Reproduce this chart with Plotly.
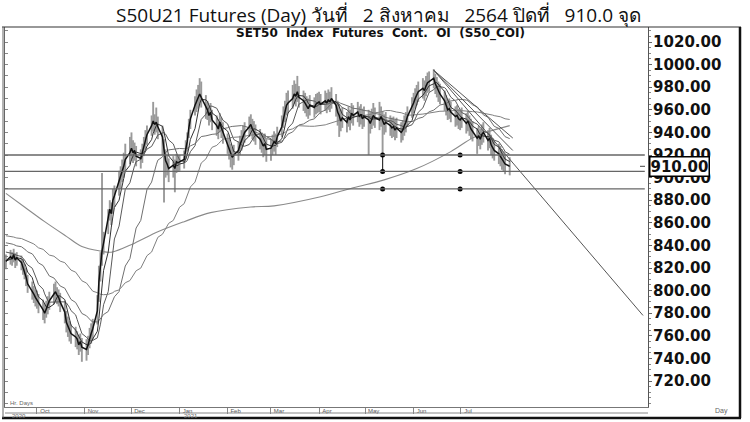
import pandas as pd
import plotly.graph_objects as go

# ---------------- data ----------------
start_date = "2020-09-11"

close = [
    # Sep 2020
    826, 830, 828, 832, 827, 829, 825, 821, 818, 812, 806, 800, 797, 794,
    # Oct 2020
    792, 789, 783, 780, 784, 788, 791, 797, 799, 796, 794, 790, 781, 772, 768, 764, 762, 759, 757, 752, 755, 750,
    # Nov 2020
    748, 752, 758, 762, 766, 782, 808, 822, 835, 842, 864, 872, 868, 880, 884, 896, 900, 906, 910, 916, 922,
    # Dec 2020
    926, 922, 924, 919, 917, 922, 928, 934, 938, 946, 950, 947, 949, 945, 936, 925, 915, 912, 908, 911, 908, 914, 913,
    # Jan 2021
    914, 916, 925, 932, 944, 952, 964, 967, 970, 974, 971, 962, 960, 955, 958, 951, 946, 943, 949, 944, 940,
    # Feb 2021
    930, 926, 921, 918, 920, 924, 929, 933, 937, 940, 945, 947, 943, 941, 938, 934, 931, 928, 930, 925,
    # Mar 2021
    926, 929, 932, 930, 936, 945, 953, 958, 964, 966, 970, 974, 972, 976, 971, 968, 966, 963, 961, 964, 962, 965, 966,
    # Apr 2021
    967, 965, 968, 966, 969, 967, 970, 964, 958, 955, 950, 953, 949, 954, 951, 957, 955, 958, 954, 956, 952, 954,
    # May 2021
    951, 948, 952, 955, 953, 951, 954, 950, 947, 949, 946, 944, 945, 942, 944, 940, 942, 946, 949, 954, 962,
    # Jun 2021
    966, 970, 973, 976, 979, 977, 981, 984, 985, 988, 983, 980, 976, 974, 968, 964, 960, 961, 958, 954, 955, 952,
    # Jul 2021
    951, 953, 948, 950, 946, 943, 941, 935, 937, 934, 938, 940, 933, 935, 929, 926, 924, 921, 919, 916, 914, 912,
    # Aug 2021
    910,
]

high = [
    832, 836, 834, 837, 833, 834, 831, 828, 824, 820, 814, 808, 804, 801,
    800, 797, 792, 788, 791, 795, 799, 806, 808, 803, 801, 798, 791, 782, 777, 773, 770, 768, 764, 761, 762, 758,
    757, 760, 767, 771, 775, 796, 822, 834, 904, 852, 872, 880, 878, 890, 893, 906, 910, 916, 922, 930, 936,
    940, 933, 931, 928, 925, 930, 936, 942, 946, 955, 967, 956, 962, 954, 946, 934, 925, 920, 917, 919, 916, 921, 920,
    920, 924, 933, 940, 952, 960, 972, 978, 982, 988, 985, 973, 968, 964, 966, 960, 955, 952, 957, 953, 949,
    939, 935, 930, 927, 929, 932, 937, 942, 946, 949, 954, 956, 952, 950, 947, 943, 940, 937, 939, 934,
    934, 938, 941, 939, 945, 955, 963, 968, 975, 977, 982, 986, 983, 990, 981, 977, 975, 972, 970, 973, 971, 974, 975,
    976, 974, 977, 975, 978, 976, 980, 974, 968, 965, 960, 962, 958, 963, 960, 966, 964, 967, 963, 965, 961, 963,
    960, 958, 961, 966, 962, 967, 963, 959, 956, 958, 955, 953, 954, 951, 953, 949, 951, 955, 958, 963, 971,
    975, 979, 982, 985, 988, 986, 990, 993, 994, 996, 992, 989, 985, 983, 977, 973, 969, 970, 967, 963, 964, 961,
    960, 962, 957, 959, 955, 952, 950, 944, 946, 943, 947, 949, 942, 944, 938, 935, 933, 930, 928, 925, 923, 921,
    918,
]

low = [
    819, 823, 822, 825, 820, 822, 818, 814, 810, 804, 798, 792, 789, 786,
    784, 780, 774, 771, 776, 779, 783, 788, 790, 788, 786, 781, 771, 763, 759, 755, 753, 750, 748, 743, 746, 737,
    738, 743, 749, 753, 757, 770, 790, 808, 822, 832, 850, 862, 858, 868, 874, 884, 890, 896, 900, 906, 912,
    915, 913, 915, 910, 908, 913, 919, 925, 929, 937, 941, 938, 940, 934, 920, 878, 900, 902, 896, 900, 887, 904, 905,
    906, 908, 916, 923, 935, 943, 955, 958, 961, 964, 962, 952, 951, 946, 949, 942, 937, 934, 940, 935, 930,
    921, 916, 909, 907, 911, 915, 920, 924, 928, 931, 936, 938, 934, 932, 929, 925, 922, 918, 920, 914,
    915, 920, 923, 920, 927, 936, 944, 949, 955, 957, 961, 965, 963, 967, 962, 959, 957, 954, 952, 955, 953, 956, 957,
    958, 956, 959, 957, 960, 958, 961, 954, 946, 936, 941, 944, 940, 945, 942, 948, 946, 949, 945, 947, 943, 945,
    920, 939, 943, 946, 944, 942, 945, 921, 938, 940, 937, 935, 936, 933, 935, 931, 933, 937, 940, 945, 953,
    957, 961, 964, 967, 970, 968, 972, 975, 976, 979, 974, 971, 967, 965, 959, 955, 951, 952, 949, 945, 946, 943,
    942, 944, 939, 941, 937, 934, 932, 921, 928, 925, 929, 931, 924, 926, 920, 917, 915, 912, 910, 907, 905, 903,
    902,
]

# moving-average periods and their values at the left edge of the chart (read)
ma_periods = [10, 25, 50]
ma_start_values = [835, 843, 849]

# long moving average, read at points along the curve
long_ma_dates = ["2020-09-11", "2020-09-23", "2020-10-06", "2020-10-20", "2020-10-30", "2020-11-11",
                 "2020-11-18", "2020-12-03", "2020-12-18", "2021-01-04", "2021-01-21", "2021-02-16",
                 "2021-03-03", "2021-04-02", "2021-04-23", "2021-05-13", "2021-06-03", "2021-06-25",
                 "2021-07-09", "2021-07-20", "2021-08-02"]
long_ma_vals = [886, 874, 861, 848, 839, 835, 834, 842, 852, 861, 869, 874,
                875, 883, 891, 898, 908, 923, 935, 941, 946]

# trend lines drawn from the June peak
trend_start = ("2021-06-14", 995)
trend_ends = [("2021-10-27", 778), ("2021-08-04", 935), ("2021-08-04", 924)]

# horizontal support lines and marked points
support_levels = [920, 905.5, 890]
marker_dates = ["2021-05-12", "2021-07-01"]

last_price = 910.0
y_ticks = [720, 740, 760, 780, 800, 820, 840, 860, 880, 900, 920, 940, 960, 980, 1000, 1020]
month_ticks = ["2020-10-01", "2020-11-01", "2020-12-01", "2021-01-01", "2021-02-01",
               "2021-03-01", "2021-04-01", "2021-05-01", "2021-06-01", "2021-07-01"]
month_labels = ["Oct", "Nov", "Dec", "Jan", "Feb", "Mar", "Apr", "May", "Jun", "Jul"]

title_text = "S50U21 Futures (Day) วันที่   2 สิงหาคม   2564 ปิดที่   910.0 จุด"
subtitle_text = "SET50  Index  Futures  Cont.  OI  (S50_COI)"

# ---------------- build ----------------
dates = pd.bdate_range(start_date, periods=len(close))


def sma(values, n, seed=None):
    out = []
    for i in range(len(values)):
        window = values[max(0, i - n + 1): i + 1]
        if seed is None:
            out.append(sum(window) / len(window))
        else:
            out.append((sum(window) + seed * (n - len(window))) / n)
    return out


fig = go.Figure()

# high-low bars
bx, by = [], []
for d, h, l in zip(dates, high, low):
    bx += [d, d, None]
    by += [l, h, None]
fig.add_trace(go.Scatter(x=bx, y=by, mode="lines", line=dict(color="#9a9a9a", width=1.9),
                         hoverinfo="skip", showlegend=False))

# long MA
fig.add_trace(go.Scatter(x=pd.to_datetime(long_ma_dates), y=long_ma_vals, mode="lines",
                         line=dict(color="#8a8a8a", width=1.1, shape="spline"), showlegend=False))

# MAs
ma_colors = ["#5a5a5a", "#707070", "#808080"]
for n, s, c in zip(ma_periods, ma_start_values, ma_colors):
    fig.add_trace(go.Scatter(x=dates, y=sma(close, n, s), mode="lines",
                             line=dict(color=c, width=1), showlegend=False))
fig.add_trace(go.Scatter(x=dates, y=sma(close, 5), mode="lines",
                         line=dict(color="#333333", width=1), showlegend=False))
# close line
fig.add_trace(go.Scatter(x=dates, y=close, mode="lines",
                         line=dict(color="#111111", width=1.5), showlegend=False))

# trend lines
for d_end, v_end in trend_ends:
    fig.add_trace(go.Scatter(x=pd.to_datetime([trend_start[0], d_end]), y=[trend_start[1], v_end],
                             mode="lines", line=dict(color="#555555", width=1), showlegend=False))

# support lines
for lvl in support_levels:
    fig.add_shape(type="line", xref="paper", x0=0, x1=0.995, yref="y", y0=lvl, y1=lvl,
                  line=dict(color="#666666", width=1.3))
# vertical connector and marker dots
fig.add_trace(go.Scatter(x=pd.to_datetime([marker_dates[0]] * 2), y=[support_levels[0], support_levels[1]],
                         mode="lines", line=dict(color="#333333", width=1.2), showlegend=False))
mx, my = [], []
for d in marker_dates:
    for lvl in support_levels:
        mx.append(pd.Timestamp(d))
        my.append(lvl)
fig.add_trace(go.Scatter(x=mx, y=my, mode="markers", marker=dict(color="black", size=5),
                         showlegend=False))

# invisible trace for left tick axis
fig.add_trace(go.Scatter(x=[dates[0]], y=[900], yaxis="y2", mode="markers",
                         marker=dict(opacity=0), hoverinfo="skip", showlegend=False))

# ---------------- layout ----------------
W, H = 750, 422
L, R, T, B = 5, 648, 27, 407


def px(xp):
    return (xp - L) / (R - L)


def py(yp):
    return (B - yp) / (B - T)


y_top = 1020 + (42 - T) / 1.13
y_bot = 1020 - (B - 42) / 1.13

fig.update_layout(
    template="none",
    width=W, height=H,
    margin=dict(l=L, r=W - R, t=T, b=H - B, autoexpand=False),
    paper_bgcolor="white", plot_bgcolor="white",
    showlegend=False,
    xaxis=dict(type="date", range=["2020-09-10 10:00", "2021-10-30 05:00"], automargin=False,
               tickvals=pd.to_datetime(month_ticks), ticktext=month_labels,
               ticks="outside", ticklen=6, tickcolor="#888", tickwidth=1,
               tickfont=dict(family="Liberation Sans", size=6, color="#555"),
               ticklabelshift=8, ticklabelstandoff=-8,
               showgrid=False, zeroline=False, showline=True, linecolor="#777", linewidth=1),
    yaxis=dict(side="right", range=[y_bot, y_top], tickvals=y_ticks, tickformat=".2f", automargin=False,
               ticks="outside", ticklen=3, tickcolor="#666",
               minor=dict(dtick=5, tick0=0, ticks="outside", ticklen=2, tickcolor="#888"),
               tickfont=dict(family="DejaVu Sans", size=15, color="#111", weight="bold"),
               ticklabelstandoff=-2,
               showgrid=False, zeroline=False, showline=True, linecolor="#555", linewidth=1.2),
    yaxis2=dict(overlaying="y", side="left", range=[y_bot, y_top], showticklabels=False, automargin=False,
                ticks="inside", ticklen=3, dtick=10, tick0=0, tickcolor="#888",
                showgrid=False, zeroline=False, showline=True, linecolor="#666", linewidth=1),
)

# frame
fig.add_shape(type="line", xref="paper", yref="paper", x0=px(2), x1=px(741), y0=1, y1=1,
              line=dict(color="#333", width=1.2))
fig.add_shape(type="line", xref="paper", yref="paper", x0=px(740), x1=px(740), y0=1, y1=py(418),
              line=dict(color="#111", width=2.5))
fig.add_shape(type="line", xref="paper", yref="paper", x0=px(2), x1=px(741), y0=py(418), y1=py(418),
              line=dict(color="#111", width=2.5))
fig.add_shape(type="line", xref="paper", yref="paper", x0=px(3), x1=px(3), y0=1, y1=py(418),
              line=dict(color="#666", width=1))
fig.add_shape(type="line", xref="paper", yref="paper", x0=0, x1=1, y0=py(413), y1=py(413),
              line=dict(color="#888", width=1))
# small last-price dash
fig.add_shape(type="line", xref="paper", yref="y", x0=px(640), x1=px(645), y0=last_price, y1=last_price,
              line=dict(color="#444", width=1))

# texts
fig.add_annotation(text=title_text, xref="paper", yref="paper", x=px(378), y=py(15),
                   xanchor="center", yanchor="middle",
                   showarrow=False, font=dict(family="Open Sans", size=19, color="#111"))
fig.add_annotation(text=subtitle_text, xref="paper", yref="paper", x=px(380), y=py(33),
                   xanchor="center", yanchor="middle",
                   showarrow=False, font=dict(family="DejaVu Sans", size=12, color="#111", weight="bold"))
fig.add_annotation(text="%.2f" % last_price, xref="paper", yref="y", x=1, y=last_price,
                   xanchor="left", yanchor="middle", xshift=1, showarrow=False, bgcolor="white",
                   bordercolor="black", borderwidth=1.5, borderpad=0,
                   font=dict(family="DejaVu Sans", size=15, color="#111", weight="bold"))
small = dict(family="Liberation Sans", size=6, color="#666")
fig.add_annotation(text="Hr. Days", xref="paper", yref="paper", x=px(8), y=py(403),
                   xanchor="left", yanchor="middle", showarrow=False, font=small)
fig.add_annotation(text="2020", xref="paper", yref="paper", x=px(10), y=py(416.5),
                   xanchor="left", yanchor="middle", showarrow=False, font=small)
fig.add_annotation(text="2021", xref="paper", yref="paper", x=px(182), y=py(416.5),
                   xanchor="left", yanchor="middle", showarrow=False, font=small)
fig.add_annotation(text="Day", xref="paper", yref="paper", x=px(721), y=py(411),
                   xanchor="center", yanchor="middle",
                   showarrow=False, font=dict(family="Liberation Sans", size=7, color="#666"))

fig.write_html("out.html", config={"displayModeBar": False},
               post_script="document.body.style.margin='0';document.body.style.overflow='hidden';")
